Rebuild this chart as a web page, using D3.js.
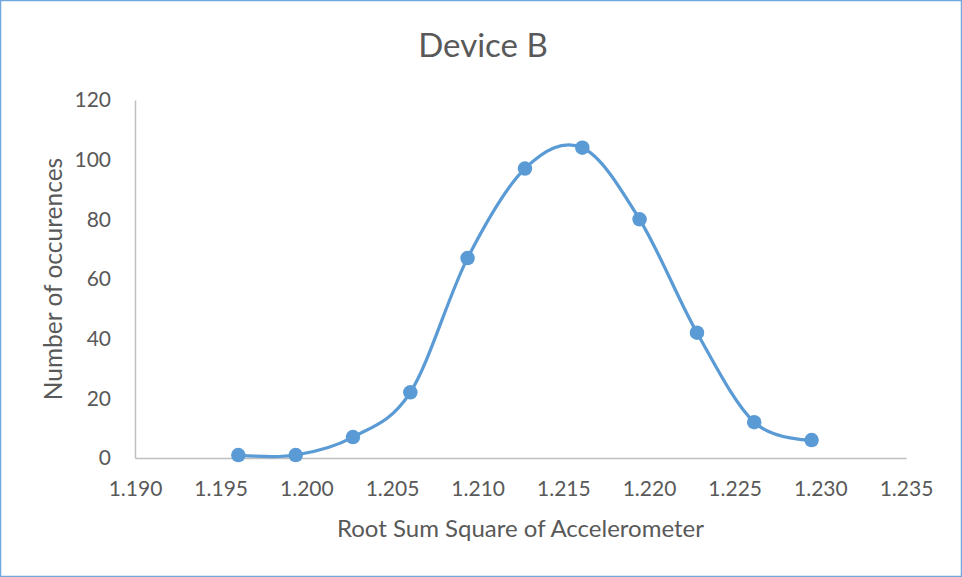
<!DOCTYPE html>
<html>
<head>
<meta charset="utf-8">
<script src="https://cdn.jsdelivr.net/npm/d3@7"></script>
<style>
  body { margin: 0; background: #fff; }
  text { font-family: Lato, "Open Sans", sans-serif; fill: #595959; }
</style>
</head>
<body>
<div id="chart"></div>
<script>
// data
var rssValues = [1.19603, 1.19938, 1.20272, 1.20607, 1.20941, 1.21276, 1.21611, 1.21945, 1.22280, 1.22614, 1.22949];
var occurences = [1, 1, 7, 22, 67, 97, 104, 80, 42, 12, 6];
var xTicks = [1.190, 1.195, 1.200, 1.205, 1.210, 1.215, 1.220, 1.225, 1.230, 1.235];
var yTicks = [0, 20, 40, 60, 80, 100, 120];

var W = 962, H = 577;
var margin = {top: 100, right: 56, bottom: 119, left: 135},
    width = W - margin.left - margin.right,
    height = H - margin.top - margin.bottom;

var root = d3.select("#chart")
  .append("svg")
    .attr("width", W)
    .attr("height", H);

// outer frame
root.append("rect")
    .attr("x", 0.5).attr("y", 0.5)
    .attr("width", W - 1).attr("height", H - 1)
    .attr("fill", "#fff")
    .attr("stroke", "#6fa8dc")
    .attr("stroke-width", 1.5);

// title
root.append("text")
    .attr("x", 483)
    .attr("y", 57)
    .attr("font-size", "33px")
    .style("text-anchor", "middle")
    .text("Device B");

var svg = root.append("g")
    .attr("transform", "translate(" + margin.left + "," + margin.top + ")");

var x = d3.scaleLinear()
    .domain([1.190, 1.235])
    .range([0, width]);

var y = d3.scaleLinear()
    .domain([0, 120])
    .range([height, 0]);

// x axis
var xAxis = svg.append("g")
    .attr("transform", "translate(0," + height + ")")
    .call(d3.axisBottom(x).tickValues(xTicks).tickSize(0).tickPadding(23).tickFormat(d3.format(".3f")));
xAxis.select(".domain").attr("stroke", "#bfbfbf").attr("stroke-width", 1.5);
xAxis.selectAll("text")
    .attr("font-size", "21px")
    .attr("fill", "#595959")
    .style("font-family", "Lato, sans-serif");

// y axis
var yAxis = svg.append("g")
    .call(d3.axisLeft(y).tickValues(yTicks).tickSize(0).tickPadding(24));
yAxis.select(".domain").attr("stroke", "#bfbfbf").attr("stroke-width", 1.5);
yAxis.selectAll("text")
    .attr("font-size", "21px")
    .attr("fill", "#595959")
    .style("font-family", "Lato, sans-serif");

// axis titles
svg.append("text")
    .attr("x", width / 2)
    .attr("y", height + 79)
    .attr("font-size", "24px")
    .style("text-anchor", "middle")
    .text("Root Sum Square of Accelerometer");

svg.append("text")
    .attr("transform", "rotate(-90)")
    .attr("x", -(height / 2))
    .attr("y", -73)
    .attr("font-size", "24.5px")
    .style("text-anchor", "middle")
    .text("Number of occurences");

var data = rssValues.map(function(v, i) { return {x: v, y: occurences[i]}; });

// smoothed line
var line = d3.line()
    .curve(d3.curveCatmullRom.alpha(0))
    .x(function(d) { return x(d.x); })
    .y(function(d) { return y(d.y); });

svg.append("path")
    .datum(data)
    .attr("fill", "none")
    .attr("stroke", "#5b9bd5")
    .attr("stroke-width", 3.25)
    .attr("d", line);

// markers
svg.selectAll(".dot")
    .data(data)
  .enter().append("circle")
    .attr("class", "dot")
    .attr("cx", function(d) { return x(d.x); })
    .attr("cy", function(d) { return y(d.y); })
    .attr("r", 7.25)
    .attr("fill", "#5b9bd5");
</script>
</body>
</html>
